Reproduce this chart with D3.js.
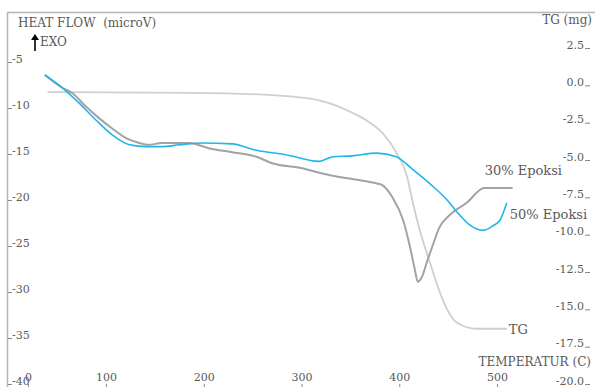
<!DOCTYPE html>
<html>
<head>
<meta charset="utf-8">
<script src="https://cdn.jsdelivr.net/npm/d3@7"></script>
<style>
  body { margin: 0; background: #fff; }
  svg text { font-family: "DejaVu Serif", "Liberation Serif", serif; fill: #5a5a5a; }
</style>
</head>
<body>
<div id="chart"></div>
<script>
// ---- data ----
const xTicks = [0, 100, 200, 300, 400, 500];
const heatTicks = [-5, -10, -15, -20, -25, -30, -35, -40];
const tgTicks = [2.5, 0, -2.5, -5, -7.5, -10, -12.5, -15, -17.5, -20];

// [temperature C, heat flow microV]
const epoksi50 = [
  [21.5, -6.4], [44, -7.8], [66, -9.5], [87, -11.3], [106, -12.9], [124, -14.0],
  [141, -14.2], [157, -14.2], [175, -14.0], [198, -13.8], [229, -13.9], [254, -14.6],
  [285, -15.1], [318, -15.8], [332, -15.3], [352, -15.2], [377, -14.9], [397, -15.3],
  [414, -16.7], [431, -18.2], [449, -20.0], [459, -21.3], [472, -22.7], [486, -23.3],
  [496, -22.8], [503, -22.2], [510, -20.3]
];
const epoksi30 = [
  [21.5, -6.4], [44, -7.8], [57, -8.4], [75, -9.9], [91, -11.1], [106, -12.2],
  [121, -13.3], [131, -13.7], [144, -14.0], [157, -13.8], [172, -13.8], [185, -13.8],
  [206, -14.4], [229, -14.8], [254, -15.3], [270, -16.0], [298, -16.5], [329, -17.3],
  [357, -17.8], [377, -18.2], [383, -18.4], [393, -19.7], [404, -22.2], [411, -25.1],
  [416, -27.6], [419, -28.9], [423, -28.4], [429, -26.5], [435, -24.7], [441, -23.0],
  [452, -21.6], [469, -20.3], [487, -18.7], [516, -18.7]
];
// [temperature C, mass mg]
const tgCurve = [
  [25, -0.45], [185, -0.5], [270, -0.65], [318, -1.0], [354, -1.9], [370, -2.5],
  [383, -3.2], [397, -4.5], [408, -6.1], [414, -7.9], [421, -9.7], [428, -11.2],
  [434, -12.4], [439, -13.4], [449, -15.0], [459, -15.9], [479, -16.3], [510, -16.3]
];

const colors = {
  blue: "#1fb6ea",
  gray: "#a3a3a3",
  tg: "#cfcfcf",
  frame: "#b5b5b5",
  text: "#5a5a5a",
};

const width = 595, height = 387;

const svg = d3.select("#chart").append("svg")
  .attr("width", width)
  .attr("height", height);

// scales
const x = d3.scaleLinear().domain([0, 100, 500]).range([28, 106, 497]);
const yHeat = d3.scaleLinear().domain([-5, -40]).range([62, 384]);
const yTg = d3.scaleLinear().domain([2.5, -20]).range([48, 384]);

// frame (top + left)
svg.append("line").attr("x1", 7).attr("x2", width).attr("y1", 12.5).attr("y2", 12.5)
  .attr("stroke", colors.frame).attr("stroke-width", 1.5);
svg.append("line").attr("x1", 7.5).attr("x2", 7.5).attr("y1", 12).attr("y2", height)
  .attr("stroke", colors.frame).attr("stroke-width", 1.5);

// left axis
const leftAxis = svg.append("g").attr("transform", "translate(8,0)")
  .call(d3.axisRight(yHeat).tickValues(heatTicks).tickSize(4).tickFormat(d => d));
leftAxis.select(".domain").remove();
leftAxis.selectAll(".tick line").attr("stroke", "#888");
leftAxis.selectAll(".tick text")
  .attr("x", 4).attr("dy", "0em")
  .style("font-size", "11px").style("fill", colors.text);

// right axis
const rightAxis = svg.append("g").attr("transform", "translate(585,0)")
  .call(d3.axisRight(yTg).tickValues(tgTicks).tickSize(5).tickFormat(d => d.toFixed(1)));
rightAxis.select(".domain").remove();
rightAxis.selectAll(".tick line").attr("stroke", "#888");
rightAxis.selectAll(".tick text")
  .attr("x", -1).attr("dy", "0em").attr("text-anchor", "end")
  .style("font-size", "11px").style("fill", colors.text);

// bottom axis (labels above small ticks)
const bottomAxis = svg.append("g").attr("transform", `translate(0,${height})`)
  .call(d3.axisTop(x).tickValues(xTicks).tickSize(3).tickFormat(d => d));
bottomAxis.select(".domain").remove();
bottomAxis.selectAll(".tick line").attr("stroke", "#888");
bottomAxis.selectAll(".tick text")
  .attr("dy", "0em")
  .style("font-size", "11px").style("fill", colors.text);

// curves
const heatLine = d3.line().x(d => x(d[0])).y(d => yHeat(d[1])).curve(d3.curveMonotoneX);
const tgLine = d3.line().x(d => x(d[0])).y(d => yTg(d[1])).curve(d3.curveMonotoneX);

svg.append("path").datum(tgCurve).attr("d", tgLine)
  .attr("fill", "none").attr("stroke", colors.tg).attr("stroke-width", 1.8);
svg.append("path").datum(epoksi30).attr("d", heatLine)
  .attr("fill", "none").attr("stroke", colors.gray).attr("stroke-width", 2);
svg.append("path").datum(epoksi50).attr("d", heatLine)
  .attr("fill", "none").attr("stroke", colors.blue).attr("stroke-width", 1.6);

// curve labels
const last30 = epoksi30[epoksi30.length - 1];
const last50 = epoksi50[epoksi50.length - 1];
const lastTg = tgCurve[tgCurve.length - 1];
svg.append("text").text("30% Epoksi")
  .attr("x", x(last30[0]) - 28).attr("y", yHeat(last30[1]) - 13)
  .style("font-size", "13px");
svg.append("text").text("50% Epoksi")
  .attr("x", x(last50[0]) + 3).attr("y", yHeat(last50[1]) + 16)
  .style("font-size", "13px");
svg.append("text").text("TG")
  .attr("x", x(lastTg[0]) + 2).attr("y", yTg(lastTg[1]) + 5)
  .style("font-size", "13px");

// axis titles
svg.append("text").text("HEAT FLOW  (microV)")
  .attr("x", 18).attr("y", 27).style("font-size", "12px").style("white-space", "pre");
svg.append("text").text("EXO")
  .attr("x", 40).attr("y", 46).style("font-size", "12px");
svg.append("line").attr("x1", 35).attr("x2", 35).attr("y1", 51).attr("y2", 38)
  .attr("stroke", "#000").attr("stroke-width", 1.6);
svg.append("path").attr("d", "M31,40 L35,34 L39,40 Z").attr("fill", "#000");

svg.append("text").text("TG (mg)")
  .attr("x", 592).attr("y", 24).attr("text-anchor", "end").style("font-size", "12px");
svg.append("text").text("TEMPERATUR (C)")
  .attr("x", 591).attr("y", 366).attr("text-anchor", "end").style("font-size", "12px");
</script>
</body>
</html>
